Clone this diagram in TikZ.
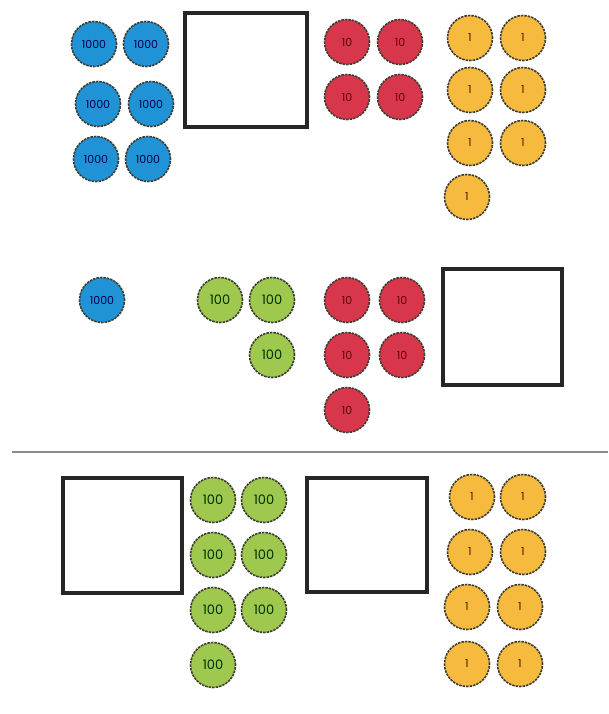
\documentclass[tikz,border=0pt]{standalone}
\usepackage{fontspec}
\setmainfont{Poppins}
\definecolor{cblue}{RGB}{32,146,214}
\definecolor{cred}{RGB}{216,54,74}
\definecolor{cyel}{RGB}{246,187,62}
\definecolor{cgreen}{RGB}{158,200,78}
\definecolor{cedge}{RGB}{60,60,50}
\tikzset{
  counter/.style={circle, minimum size=45pt, inner sep=0pt, draw=cedge, line width=1.6pt, dash pattern=on 2.5pt off 1pt},
  thou/.style={counter, fill=cblue, text=black!70!blue, font=\fontsize{11}{11}\selectfont},
  hund/.style={counter, fill=cgreen, text=black!80!green, font=\fontsize{13}{13}\selectfont},
  ten/.style={counter, fill=cred, text=black!60!red, font=\fontsize{11}{11}\selectfont},
  one/.style={counter, fill=cyel, text=black!75!orange, font=\fontsize{11}{11}\selectfont},
  emptybox/.style={draw=black!85, line width=3.5pt, fill=white}
}
\begin{document}
\begin{tikzpicture}[x=1pt,y=-1pt]
\useasboundingbox (0,0) rectangle (608,714);
\fill[white] (0,0) rectangle (608,714);
% top row
\node[thou] (a1) at (94,44) {1000};
\node[thou] (a2) at (146,44) {1000};
\node[thou] (a3) at (98,104) {1000};
\node[thou] (a4) at (151,104) {1000};
\node[thou] (a5) at (96,159) {1000};
\node[thou] (a6) at (148,159) {1000};
\draw[emptybox] (185,13) rectangle (307,127);
\node[ten] (b1) at (347,42) {10};
\node[ten] (b2) at (400,42) {10};
\node[ten] (b3) at (347,97) {10};
\node[ten] (b4) at (400,97) {10};
\node[one] (c1) at (470,38) {1};
\node[one] (c2) at (523,38) {1};
\node[one] (c3) at (470,90) {1};
\node[one] (c4) at (523,90) {1};
\node[one] (c5) at (470,143) {1};
\node[one] (c6) at (523,143) {1};
\node[one] (c7) at (467,197) {1};
% middle row
\node[thou] (d1) at (102,300) {1000};
\node[hund] (e1) at (220,300) {100};
\node[hund] (e2) at (272,300) {100};
\node[hund] (e3) at (272,355) {100};
\node[ten] (f1) at (347,300) {10};
\node[ten] (f2) at (402,300) {10};
\node[ten] (f3) at (347,355) {10};
\node[ten] (f4) at (402,355) {10};
\node[ten] (f5) at (347,410) {10};
\draw[emptybox] (443,269) rectangle (562,385);
% separator
\coordinate (s1) at (12,452);
\coordinate (s2) at (608,452);
\draw[black!45, line width=1.5pt] (s1) -- (s2);
% bottom row
\draw[emptybox] (63,478) rectangle (182,593);
\node[hund] (g1) at (213,500) {100};
\node[hund] (g2) at (264,500) {100};
\node[hund] (g3) at (213,555) {100};
\node[hund] (g4) at (264,555) {100};
\node[hund] (g5) at (213,610) {100};
\node[hund] (g6) at (264,610) {100};
\node[hund] (g7) at (213,665) {100};
\draw[emptybox] (307,478) rectangle (427,592);
\node[one] (h1) at (472,497) {1};
\node[one] (h2) at (523,497) {1};
\node[one] (h3) at (470,552) {1};
\node[one] (h4) at (523,552) {1};
\node[one] (h5) at (467,607) {1};
\node[one] (h6) at (520,607) {1};
\node[one] (h7) at (467,664) {1};
\node[one] (h8) at (520,664) {1};
\end{tikzpicture}
\end{document}
